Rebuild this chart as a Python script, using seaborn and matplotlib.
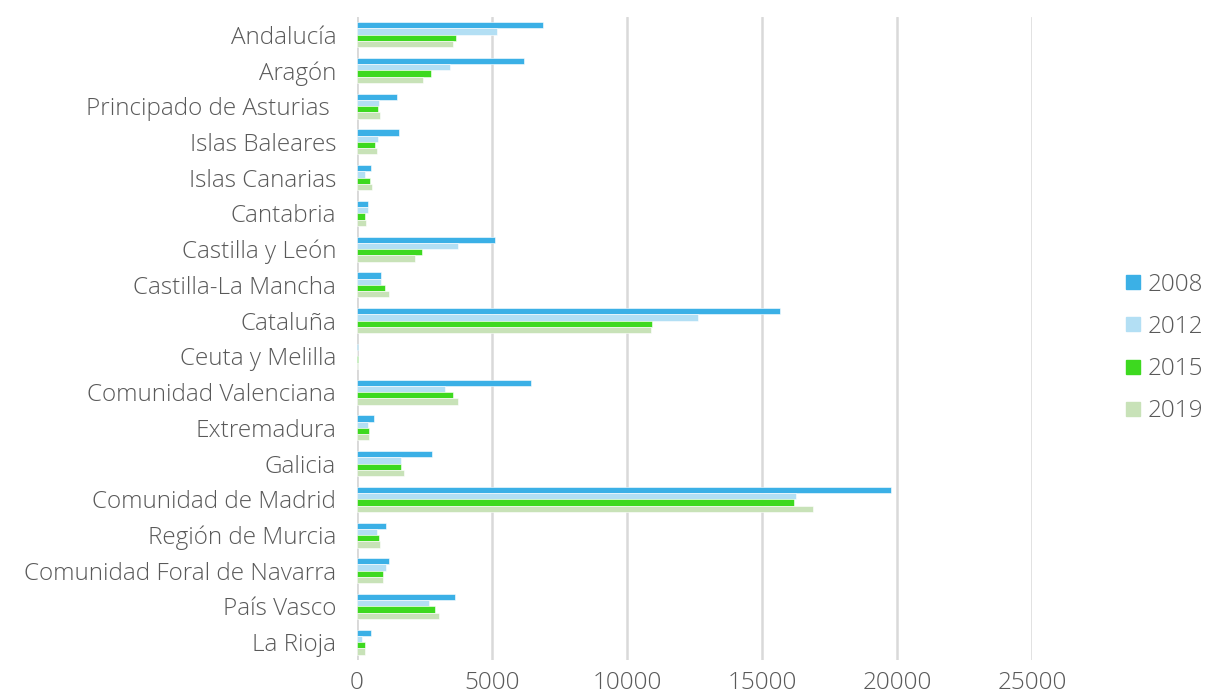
import matplotlib
matplotlib.use("Agg")
import matplotlib.pyplot as plt
import numpy as np
import pandas as pd
import seaborn as sns
from matplotlib.lines import Line2D

regions = [
    "Andalucía", "Aragón", "Principado de Asturias ", "Islas Baleares",
    "Islas Canarias", "Cantabria", "Castilla y León", "Castilla-La Mancha",
    "Cataluña", "Ceuta y Melilla", "Comunidad Valenciana", "Extremadura",
    "Galicia", "Comunidad de Madrid", "Región de Murcia",
    "Comunidad Foral de Navarra", "País Vasco", "La Rioja",
]
years = ["2008", "2012", "2015", "2019"]

v2008 = [6900, 6170, 1470, 1540, 520, 420, 5120, 900, 15670, 50, 6430, 640,
         2780, 19760, 1080, 1190, 3620, 500]
v2012 = [5190, 3460, 830, 780, 300, 400, 3730, 900, 12630, 10, 3270, 400,
         1620, 16240, 750, 1090, 2680, 180]
v2015 = [3650, 2730, 790, 670, 470, 310, 2420, 1020, 10940, 40, 3540, 440,
         1620, 16180, 820, 980, 2870, 280]
v2019 = [3570, 2460, 860, 740, 540, 330, 2160, 1170, 10900, 30, 3750, 430,
         1730, 16880, 840, 980, 3020, 280]

colors = ["#3BB0E6", "#B3DFF4", "#3DD91F", "#C8E2B8"]

df = pd.DataFrame({
    "region": regions * 4,
    "year": np.repeat(years, len(regions)),
    "value": v2008 + v2012 + v2015 + v2019,
})

sns.set_style("white")
plt.rcParams["font.family"] = ["Open Sans", "DejaVu Sans"]
text_color = "#595959"
fsize = 17.5

fig = plt.figure(figsize=(12.32, 7), dpi=100)
ax = fig.add_axes([0.2898, 0.057, 0.5479, 0.919])

sns.barplot(
    data=df, y="region", x="value", hue="year", order=regions,
    hue_order=years, palette=colors, orient="h", width=0.7,
    errorbar=None, ax=ax, legend=False, saturation=1,
    edgecolor="white", linewidth=0.4,
)

ax.set_xlim(0, 25000)
ax.set_xticks(np.arange(0, 25001, 5000))
ax.grid(axis="x", color="#D9D9D9", linewidth=1.8)
ax.set_axisbelow(True)
for s in ["top", "right", "bottom", "left"]:
    ax.spines[s].set_visible(False)
ax.axvline(0, color="#D9D9D9", linewidth=1.8, zorder=0)
ax.set_xlabel("")
ax.set_ylabel("")
ax.tick_params(axis="y", length=0, pad=15, labelsize=fsize, labelcolor=text_color)
ax.tick_params(axis="x", length=0, pad=8, labelsize=fsize, labelcolor=text_color)
for lbl in ax.get_xticklabels() + ax.get_yticklabels():
    lbl.set_fontweight("light")

handles = [Line2D([0], [0], marker="s", linestyle="", markersize=10,
                  markerfacecolor=c, markeredgecolor=c) for c in colors]
leg = fig.legend(handles, years, loc="center left",
                 bbox_to_anchor=(0.903, 0.503), frameon=False,
                 labelspacing=0.75, handletextpad=0.15, handlelength=0.9,
                 borderaxespad=0, prop={"size": fsize, "weight": "light"})
for t in leg.get_texts():
    t.set_color(text_color)

fig.savefig("out.png", dpi=100)
